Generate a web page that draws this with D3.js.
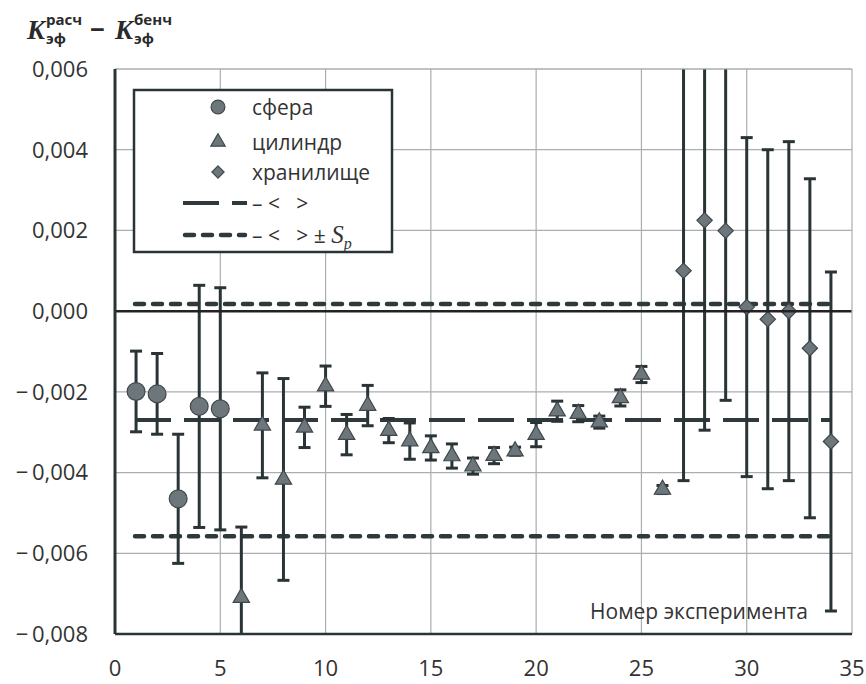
<!DOCTYPE html>
<html lang="ru">
<head>
<meta charset="UTF-8">
<title>K эф: расчёт − бенчмарк</title>
<script src="https://d3js.org/d3.v7.min.js"></script>
<style>
  body { margin: 0; background: #fff; }
  svg { display: block; font-family: "Open Sans", "Noto Sans", sans-serif; }
  .tick-label { font-size: 22px; fill: #333; }
  .grid { stroke: #a9aeb0; stroke-width: 1.2px; }
  .err { stroke: #2a3436; stroke-width: 3px; }
  .marker { fill: #6d767b; stroke: #3f484c; stroke-width: 1.2px; }
</style>
</head>
<body>
<svg id="chart" width="866" height="684"></svg>
<script>
const sphereX   = [1, 2, 3, 4, 5];
const sphereY   = [-0.00199, -0.00205, -0.00465, -0.00236, -0.00242];
const sphereErr = [0.0010, 0.0010, 0.0016, 0.0030, 0.0030];

const cylX   = [6, 7, 8, 9, 10, 11, 12, 13, 14, 15, 16, 17, 18, 19, 20, 21, 22, 23, 24, 25, 26];
const cylY   = [-0.0071, -0.00283, -0.00417, -0.00288, -0.00186, -0.00306, -0.00234, -0.00296,
                -0.00322, -0.00339, -0.00359, -0.00384, -0.00358, -0.00347, -0.00306, -0.00248,
                -0.00254, -0.00275, -0.00215, -0.00157, -0.00442];
const cylErr = [0.00175, 0.0013, 0.0025, 0.0005, 0.0005, 0.0005, 0.0005, 0.0003,
                0.00045, 0.0003, 0.0003, 0.0002, 0.0002, 0.0001, 0.0003, 0.00025,
                0.0002, 0.00015, 0.0002, 0.0002, 0.0001];

const storX   = [27, 28, 29, 30, 31, 32, 33, 34];
const storY   = [0.0010, 0.00225, 0.00199, 0.0001, -0.0002, 0.0000, -0.00092, -0.00323];
const storErr = [0.0052, 0.0052, 0.0042, 0.0042, 0.0042, 0.0042, 0.0042, 0.0042];

const meanValue = -0.0027;
const spValue = 0.00288;
const lineRange = [0.95, 34.05];

const xTicks = [0, 5, 10, 15, 20, 25, 30, 35];
const yTicks = [-0.008, -0.006, -0.004, -0.002, 0, 0.002, 0.004, 0.006];
const legendNames = ['сфера', 'цилиндр', 'хранилище'];

const svg = d3.select('#chart');
const pLeft = 115, pRight = 852, pTop = 69, pBottom = 634;

const x = d3.scaleLinear().domain([0, 35]).range([pLeft, pRight]);
const y = d3.scaleLinear().domain([-0.008, 0.006]).range([pBottom, pTop]);

svg.append('clipPath').attr('id', 'plot-clip')
  .append('rect').attr('x', pLeft).attr('y', pTop)
  .attr('width', pRight - pLeft).attr('height', pBottom - pTop);

// grid
svg.append('g').selectAll('line').data(xTicks.slice(1, -1)).join('line')
  .attr('class', 'grid')
  .attr('x1', d => x(d)).attr('x2', d => x(d))
  .attr('y1', pTop).attr('y2', pBottom);
svg.append('g').selectAll('line').data(yTicks.filter(d => d !== 0 && d !== -0.008)).join('line')
  .attr('class', 'grid')
  .attr('x1', pLeft).attr('x2', pRight)
  .attr('y1', d => y(d)).attr('y2', d => y(d));

// tick labels
const fmt = v => {
  const s = Math.abs(v).toFixed(3).replace('.', ',');
  return v < 0 ? '\u2212\u2009' + s : s;
};
svg.append('g').selectAll('text').data(yTicks).join('text')
  .attr('class', 'tick-label')
  .attr('x', 88).attr('y', d => y(d))
  .attr('dy', '0.36em')
  .attr('text-anchor', 'end')
  .text(fmt);
svg.append('g').selectAll('text').data(xTicks).join('text')
  .attr('class', 'tick-label')
  .attr('x', d => x(d)).attr('y', 676)
  .attr('text-anchor', 'middle')
  .text(d => d);

// mean and +/- Sp lines
const plot = svg.append('g').attr('clip-path', 'url(#plot-clip)');
plot.append('line')
  .attr('x1', x(lineRange[0])).attr('x2', x(lineRange[1]))
  .attr('y1', y(meanValue)).attr('y2', y(meanValue))
  .attr('stroke', '#2f393b').attr('stroke-width', 4)
  .attr('stroke-dasharray', '36,13');
[meanValue + spValue, meanValue - spValue].forEach(v => {
  plot.append('line')
    .attr('x1', x(lineRange[0])).attr('x2', x(lineRange[1]))
    .attr('y1', y(v)).attr('y2', y(v))
    .attr('stroke', '#2f393b').attr('stroke-width', 4.5)
    .attr('stroke-linecap', 'round')
    .attr('stroke-dasharray', '9,9');
});

// zero line
svg.append('line')
  .attr('x1', pLeft).attr('x2', pRight)
  .attr('y1', y(0)).attr('y2', y(0))
  .attr('stroke', '#222').attr('stroke-width', 2.5);

// frame: top/right light, left/bottom dark
svg.append('line').attr('class', 'grid').attr('x1', pLeft).attr('x2', pRight).attr('y1', pTop).attr('y2', pTop);
svg.append('line').attr('class', 'grid').attr('x1', pRight).attr('x2', pRight).attr('y1', pTop).attr('y2', pBottom);
svg.append('line').attr('x1', pLeft).attr('x2', pLeft).attr('y1', pTop).attr('y2', pBottom)
  .attr('stroke', '#2a3436').attr('stroke-width', 3);
svg.append('line').attr('x1', pLeft).attr('x2', pRight).attr('y1', pBottom).attr('y2', pBottom)
  .attr('stroke', '#2a3436').attr('stroke-width', 2.5);

// series
const series = [
  { xs: sphereX, ys: sphereY, es: sphereErr, sym: d3.symbolCircle, size: 250, legSize: 150 },
  { xs: cylX, ys: cylY, es: cylErr, sym: d3.symbolTriangle, size: 115, legSize: 90 },
  { xs: storX, ys: storY, es: storErr, sym: d3.symbolDiamond2, size: 150, legSize: 95 }
];

series.forEach(s => {
  const pts = s.xs.map((v, i) => ({ x: v, y: s.ys[i], e: s.es[i] }));
  const g = plot.append('g');
  g.selectAll('line.stem').data(pts).join('line')
    .attr('class', 'err')
    .attr('x1', d => x(d.x)).attr('x2', d => x(d.x))
    .attr('y1', d => y(d.y - d.e)).attr('y2', d => y(d.y + d.e));
  g.selectAll('line.cap-hi').data(pts).join('line')
    .attr('class', 'err')
    .attr('x1', d => x(d.x) - 6).attr('x2', d => x(d.x) + 6)
    .attr('y1', d => y(d.y + d.e)).attr('y2', d => y(d.y + d.e));
  g.selectAll('line.cap-lo').data(pts).join('line')
    .attr('class', 'err')
    .attr('x1', d => x(d.x) - 6).attr('x2', d => x(d.x) + 6)
    .attr('y1', d => y(d.y - d.e)).attr('y2', d => y(d.y - d.e));
  g.selectAll('path').data(pts).join('path')
    .attr('class', 'marker')
    .attr('transform', d => `translate(${x(d.x)},${y(d.y)})`)
    .attr('d', d3.symbol().type(s.sym).size(s.size));
});

// axis caption inside the plot
svg.append('text')
  .attr('x', 808).attr('y', 619)
  .attr('text-anchor', 'end')
  .attr('font-size', 21).attr('fill', '#333')
  .text('Номер эксперимента');

// y title: K_эф^расч − K_эф^бенч
const title = svg.append('g').attr('fill', '#2a2a2a');
const kPart = (x0, sup) => {
  title.append('text').attr('x', x0).attr('y', 39)
    .attr('font-family', '"Liberation Serif", serif').attr('font-style', 'italic')
    .attr('font-weight', 'bold').attr('font-size', 27).text('K');
  title.append('text').attr('x', x0 + 19).attr('y', 25)
    .attr('font-size', 15).attr('font-weight', 700).text(sup);
  title.append('text').attr('x', x0 + 19).attr('y', 44)
    .attr('font-size', 15).attr('font-weight', 700).text('эф');
};
kPart(27, 'расч');
title.append('text').attr('x', 90).attr('y', 39).attr('font-size', 26).attr('font-weight', 700).text('\u2212');
kPart(115, 'бенч');

// legend
const lg = svg.append('g').attr('transform', 'translate(134,90)');
lg.append('rect').attr('width', 258).attr('height', 162)
  .attr('fill', '#fff').attr('stroke', '#2a3436').attr('stroke-width', 2.5);
const rowY = [17, 52, 82, 113, 145];
series.forEach((s, i) => {
  lg.append('path')
    .attr('class', 'marker')
    .attr('transform', `translate(84,${rowY[i]})`)
    .attr('d', d3.symbol().type(s.sym).size(s.legSize));
  lg.append('text').attr('x', 118).attr('y', rowY[i]).attr('dy', '0.36em')
    .attr('font-size', 21).attr('fill', '#333').text(legendNames[i]);
});
lg.append('line').attr('x1', 49).attr('x2', 113).attr('y1', rowY[3]).attr('y2', rowY[3])
  .attr('stroke', '#2f393b').attr('stroke-width', 4).attr('stroke-dasharray', '36,13');
lg.append('line').attr('x1', 51).attr('x2', 111).attr('y1', rowY[4]).attr('y2', rowY[4])
  .attr('stroke', '#2f393b').attr('stroke-width', 4.5).attr('stroke-linecap', 'round')
  .attr('stroke-dasharray', '9,9');
lg.append('text').attr('x', 118).attr('y', rowY[3]).attr('dy', '0.36em')
  .attr('font-size', 21).attr('fill', '#333').attr('xml:space', 'preserve').text('\u2013 <   >');
const spText = lg.append('text').attr('x', 118).attr('y', rowY[4]).attr('dy', '0.36em')
  .attr('font-size', 21).attr('fill', '#333').attr('xml:space', 'preserve');
spText.append('tspan').text('\u2013 <   > \u00b1 ');
spText.append('tspan').attr('font-family', '"Liberation Serif", serif').attr('font-style', 'italic')
  .attr('font-size', 25).text('S');
spText.append('tspan').attr('font-family', '"Liberation Serif", serif').attr('font-style', 'italic')
  .attr('font-size', 16).attr('dy', 6).text('p');
</script>
</body>
</html>
